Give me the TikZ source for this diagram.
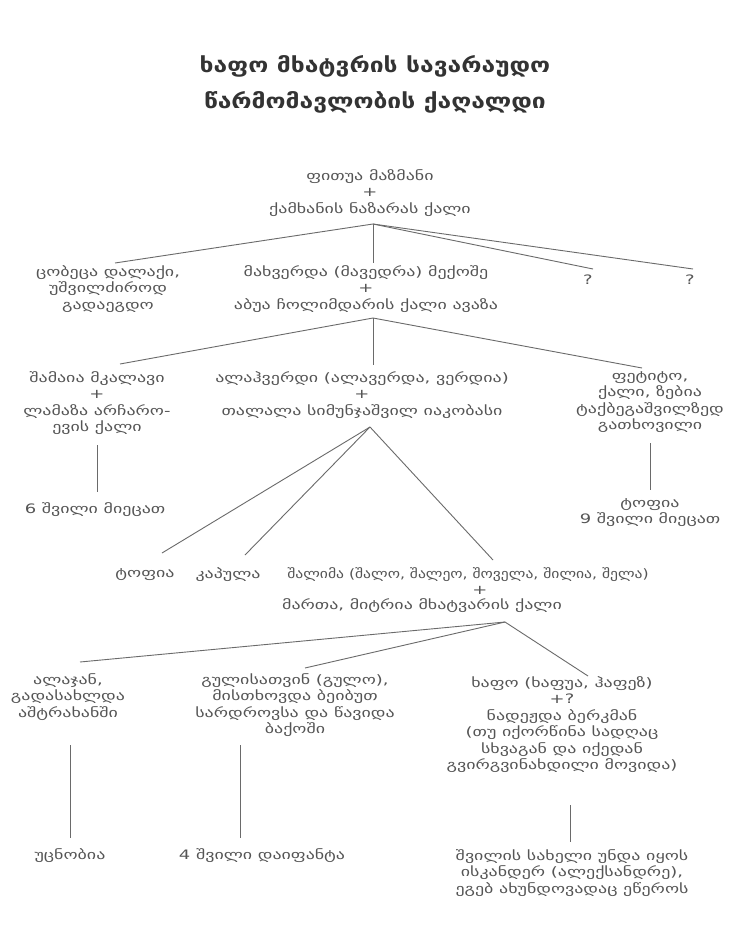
\documentclass[tikz,border=0pt]{standalone}
\usepackage{fontspec}
\newfontfamily\gfont[FakeStretch=1.38]{DejaVu Sans}
\newfontfamily\gfontc[FakeStretch=1.2]{DejaVu Sans}
\newfontfamily\gbold[FakeStretch=1.2]{DejaVu Sans Bold}
\definecolor{txt}{HTML}{555555}
\definecolor{ttl}{HTML}{333333}
\definecolor{ln}{HTML}{6a6a6a}
\begin{document}
\begin{tikzpicture}[x=1pt,y=-1pt,
  lbl/.style={inner sep=0pt,align=center,text=txt,font=\gfont\fontsize{13}{16.5}\selectfont},
  lblc/.style={lbl,font=\gfontc\fontsize{13}{16.5}\selectfont},
  ttlstyle/.style={inner sep=0pt,align=center,text=ttl,font=\gbold\fontsize{20.5}{36}\selectfont},
  conn/.style={draw=ln,line width=0.9pt}]
\useasboundingbox[fill=white] (0,0) rectangle (739,945);
% title
\node[ttlstyle] (T) at (375,84) {ხაფო მხატვრის სავარაუდო\\წარმომავლობის ქაღალდი};
% generation 1
\node[lbl,anchor=north] (A) at (370,169) {ფითუა მაზმანი\\+\\ქამხანის ნაზარას ქალი};
% generation 2
\node[lbl,anchor=north] (B1) at (108,265) {ცობეცა დალაქი,\\უშვილძიროდ\\გადაეგდო};
\node[lbl,anchor=north] (B2) at (366,265) {მახვერდა (მავედრა) მექოშე\\+\\აბუა ჩოლიმდარის ქალი ავაზა};
\node[lbl] (Q1) at (588,280) {?};
\node[lbl] (Q2) at (690,280) {?};
% generation 3
\node[lbl,anchor=north] (C1) at (97,371) {შამაია მკალავი\\+\\ლამაზა არჩარო-\\ევის ქალი};
\node[lbl] (C1k) at (95,510) {6 შვილი მიეცათ};
\node[lbl,anchor=north] (C2) at (362,371) {ალაჰვერდი (ალავერდა, ვერდია)\\+\\თალალა სიმუნჯაშვილ იაკობასი};
\node[lbl,anchor=north] (C3) at (650,371) {ფეტიტო,\\ქალი, ზებია\\ტაქბეგაშვილზედ\\გათხოვილი};
\node[lbl,anchor=north] (C3k) at (650,498) {ტოფია\\9 შვილი მიეცათ};
% generation 4
\node[lbl] (D1) at (145,575) {ტოფია};
\node[lbl] (D2) at (228,575) {კაპულა};
\node[lblc] (D3) at (468,575) {შალიმა (შალო, შალეო, შოველა, შილია, შელა)};
\node[lbl] (D3p) at (480,590) {+};
\node[lbl] (D3w) at (422,606) {მართა, მიტრია მხატვარის ქალი};
% generation 5
\node[lbl,anchor=north] (E1) at (68,673) {ალაჯან,\\გადასახლდა\\აშტრახანში};
\node[lbl,anchor=north] (E2) at (295,673) {გულისათვინ (გულო),\\მისთხოვდა ბეიბუთ\\სარდროვსა და წავიდა\\ბაქოში};
\node[lbl,anchor=north] (E3) at (562,676) {ხაფო (ხაფუა, ჰაფეზ)\\+?\\ნადეჟდა ბერკმან\\(თუ იქორწინა სადღაც\\სხვაგან და იქედან\\გვირგვინახდილი მოვიდა)};
% generation 6
\node[lbl] (F1) at (70,856) {უცნობია};
\node[lbl] (F2) at (262,856) {4 შვილი დაიფანტა};
\node[lbl,anchor=north] (F3) at (572,849) {შვილის სახელი უნდა იყოს\\ისკანდერ (ალექსანდრე),\\ეგებ ახუნდოვადაც ეწეროს};
% junctions and line ends
\coordinate (jA) at (373,224);
\coordinate (eB1) at (115,263);
\coordinate (eB2) at (373,263);
\coordinate (eQ1) at (593,269);
\coordinate (eQ2) at (693,269);
\coordinate (jB) at (373,318);
\coordinate (eC1) at (120,364);
\coordinate (eC2) at (373,365);
\coordinate (eC3) at (642,368);
\coordinate (jC) at (370,427);
\coordinate (eD1) at (162,553);
\coordinate (eD2) at (245,555);
\coordinate (eD3) at (493,560);
\coordinate (jD) at (505,622);
\coordinate (eE1) at (80,662);
\coordinate (eE2) at (305,668);
\coordinate (eE3) at (588,676);
\coordinate (sC1) at (97,445);
\coordinate (tC1) at (97,492);
\coordinate (sC3) at (650,443);
\coordinate (tC3) at (650,490);
\coordinate (sE1) at (70,745);
\coordinate (tE1) at (70,838);
\coordinate (sE2) at (240,745);
\coordinate (tE2) at (240,838);
\coordinate (sE3) at (570,805);
\coordinate (tE3) at (570,842);
% connectors
\draw[conn] (jA) -- (eB1);
\draw[conn] (jA) -- (eB2);
\draw[conn] (jA) -- (eQ1);
\draw[conn] (jA) -- (eQ2);
\draw[conn] (jB) -- (eC1);
\draw[conn] (jB) -- (eC2);
\draw[conn] (jB) -- (eC3);
\draw[conn] (jC) -- (eD1);
\draw[conn] (jC) -- (eD2);
\draw[conn] (jC) -- (eD3);
\draw[conn] (jD) -- (eE1);
\draw[conn] (jD) -- (eE2);
\draw[conn] (jD) -- (eE3);
\draw[conn] (sC1) -- (tC1);
\draw[conn] (sC3) -- (tC3);
\draw[conn] (sE1) -- (tE1);
\draw[conn] (sE2) -- (tE2);
\draw[conn] (sE3) -- (tE3);
\end{tikzpicture}
\end{document}
